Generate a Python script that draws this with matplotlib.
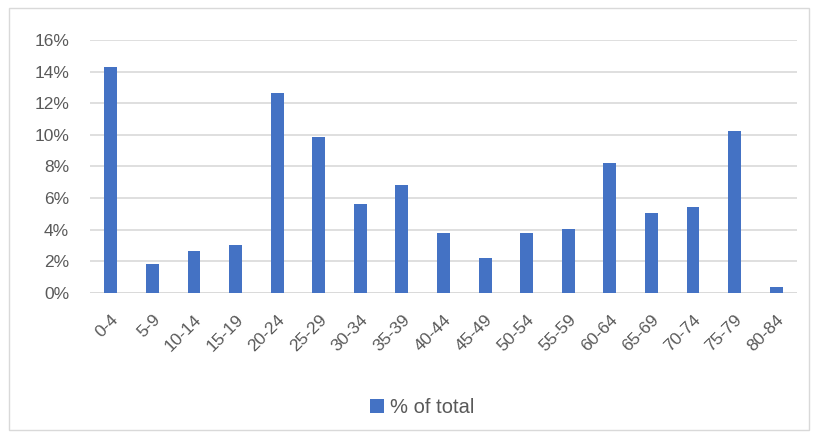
import matplotlib
matplotlib.use("Agg")
import matplotlib.pyplot as plt
from matplotlib.patches import Rectangle
from matplotlib.ticker import FuncFormatter

# age bands and share of total (%)
age_groups = ["0-4", "5-9", "10-14", "15-19", "20-24", "25-29", "30-34", "35-39",
              "40-44", "45-49", "50-54", "55-59", "60-64", "65-69", "70-74",
              "75-79", "80-84"]
pct_total = [14.27, 1.80, 2.62, 3.02, 12.67, 9.84, 5.62, 6.82,
             3.80, 2.20, 3.80, 4.01, 8.23, 5.03, 5.41, 10.24, 0.36]

BLUE = "#4472C4"
GRID = "#D9D9D9"
TEXT = "#595959"

plt.rcParams["font.family"] = ["Liberation Sans", "DejaVu Sans"]

fig = plt.figure(figsize=(8.15, 4.36), dpi=100)
ax = fig.add_axes([0.1104, 0.3287, 0.8675, 0.5796])

x = range(len(age_groups))
ax.bar(x, pct_total, width=0.31, color=BLUE, label="% of total", zorder=3)

ax.set_xlim(-0.5, len(age_groups) - 0.5)
ax.set_ylim(0, 16)
ax.set_yticks(range(0, 17, 2))
ax.yaxis.set_major_formatter(FuncFormatter(lambda v, p: f"{v:.0f}%"))
ax.grid(axis="y", color=GRID, linewidth=1.2, zorder=0)
ax.set_xticks(list(x))
ax.set_xticklabels(age_groups, rotation=45, ha="right", rotation_mode="anchor")

for s in ax.spines.values():
    s.set_visible(False)
ax.axhline(0, color=GRID, linewidth=1.2, zorder=2)
ax.tick_params(axis="both", length=0, colors=TEXT)
ax.tick_params(axis="y", pad=15, labelsize=12.5)
ax.tick_params(axis="x", pad=14, labelsize=12.5)

fig.legend(loc="center", bbox_to_anchor=(0.518, 0.066), frameon=False,
           fontsize=14.5, labelcolor=TEXT, handlelength=0.7, handleheight=0.7,
           handletextpad=0.3)

# light frame round the chart area
fig.patches.append(Rectangle((0.011, 0.014), 0.982, 0.968, transform=fig.transFigure,
                             fill=False, edgecolor=GRID, linewidth=1))

fig.savefig("out.png", dpi=100)
